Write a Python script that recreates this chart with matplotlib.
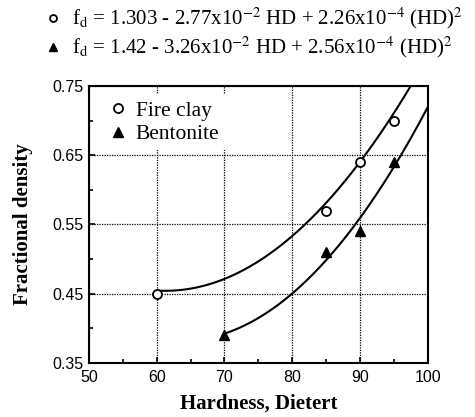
import matplotlib
matplotlib.use("Agg")
import matplotlib.pyplot as plt
import numpy as np

plt.rcParams['mathtext.fontset'] = 'stix'

# measured points
fire_hd = [60, 85, 90, 95]
fire_fd = [0.45, 0.57, 0.64, 0.70]
bent_hd = [70, 85, 90, 95]
bent_fd = [0.39, 0.51, 0.54, 0.64]

# fitted quadratics as printed on the chart (highest power first)
fire_coef = [2.26e-4, -2.77e-2, 1.303]
bent_coef = [2.56e-4, -3.26e-2, 1.42]
fire_range = [60, 100]
bent_range = [70, 100]

serif = 'Liberation Serif'
sans = 'Liberation Sans'

fig = plt.figure(figsize=(4.75, 4.17), dpi=100)
ax = fig.add_axes([0.187, 0.1295, 0.714, 0.6645])

# fit curves
x1 = np.linspace(fire_range[0], fire_range[1], 200)
ax.plot(x1, np.polyval(fire_coef, x1), color='black', lw=1.5, zorder=3)
x2 = np.linspace(bent_range[0], bent_range[1], 200)
ax.plot(x2, np.polyval(bent_coef, x2), color='black', lw=1.5, zorder=3)

# data points
ax.plot(fire_hd, fire_fd, 'o', ms=6.5, mfc='white', mec='black', mew=1.3,
        ls='none', label='Fire clay', zorder=4)
ax.plot(bent_hd, bent_fd, '^', ms=7.5, mfc='black', mec='black',
        ls='none', label='Bentonite', zorder=4)

ax.set_xlim(50, 100)
ax.set_ylim(0.35, 0.75)
ax.set_xticks(np.arange(50, 101, 10))
ax.set_xticks(np.arange(55, 100, 10), minor=True)
ax.set_yticks([0.35, 0.45, 0.55, 0.65, 0.75])
ax.set_yticks([0.40, 0.50, 0.60, 0.70], minor=True)
ax.set_yticklabels(['0.35', '0.45', '0.55', '0.65', '0.75'])

ax.grid(True, which='major', color='black', ls=(0, (1, 1)), lw=0.9)
ax.tick_params(which='both', direction='in', width=1.2, labelsize=11.5)
ax.tick_params(which='major', length=4)
ax.tick_params(which='minor', length=3)
ax.tick_params(axis='x', pad=5)
for lab in ax.get_xticklabels() + ax.get_yticklabels():
    lab.set_family(sans)
for s in ax.spines.values():
    s.set_linewidth(1.5)

ax.set_xlabel('Hardness, Dietert', family=serif, fontweight='bold',
              fontsize=15, labelpad=6)
ax.set_ylabel('Fractional density', family=serif, fontweight='bold',
              fontsize=15, labelpad=14)

leg = ax.legend(loc='upper left', frameon=True, fancybox=False,
                handletextpad=0.2, handlelength=1.2, borderpad=0.3,
                labelspacing=0.15, prop={'family': serif, 'size': 15.5},
                bbox_to_anchor=(0.03, 0.97), borderaxespad=0)
leg.get_frame().set_edgecolor('none')
leg.get_frame().set_facecolor('white')
leg.get_frame().set_alpha(1)

# equations above the plot
eq1 = r'f$_\mathrm{d}$ = 1.303 - 2.77x10$^{-2}$ HD + 2.26x10$^{-4}$ (HD)$^2$'
eq2 = r'f$_\mathrm{d}$ = 1.42 - 3.26x10$^{-2}$ HD + 2.56x10$^{-4}$ (HD)$^2$'
fig.text(72 / 475, 1 - 18 / 417, eq1, family=serif, fontsize=15,
         va='center', ha='left')
fig.text(72 / 475, 1 - 47 / 417, eq2, family=serif, fontsize=15,
         va='center', ha='left')
fig.lines.append(plt.Line2D([53 / 475], [1 - 18 / 417], marker='o', ms=5,
                            mfc='white', mec='black', mew=1.3,
                            transform=fig.transFigure))
fig.lines.append(plt.Line2D([53 / 475], [1 - 47 / 417], marker='^', ms=6,
                            mfc='black', mec='black',
                            transform=fig.transFigure))

fig.savefig('out.png', dpi=100)
